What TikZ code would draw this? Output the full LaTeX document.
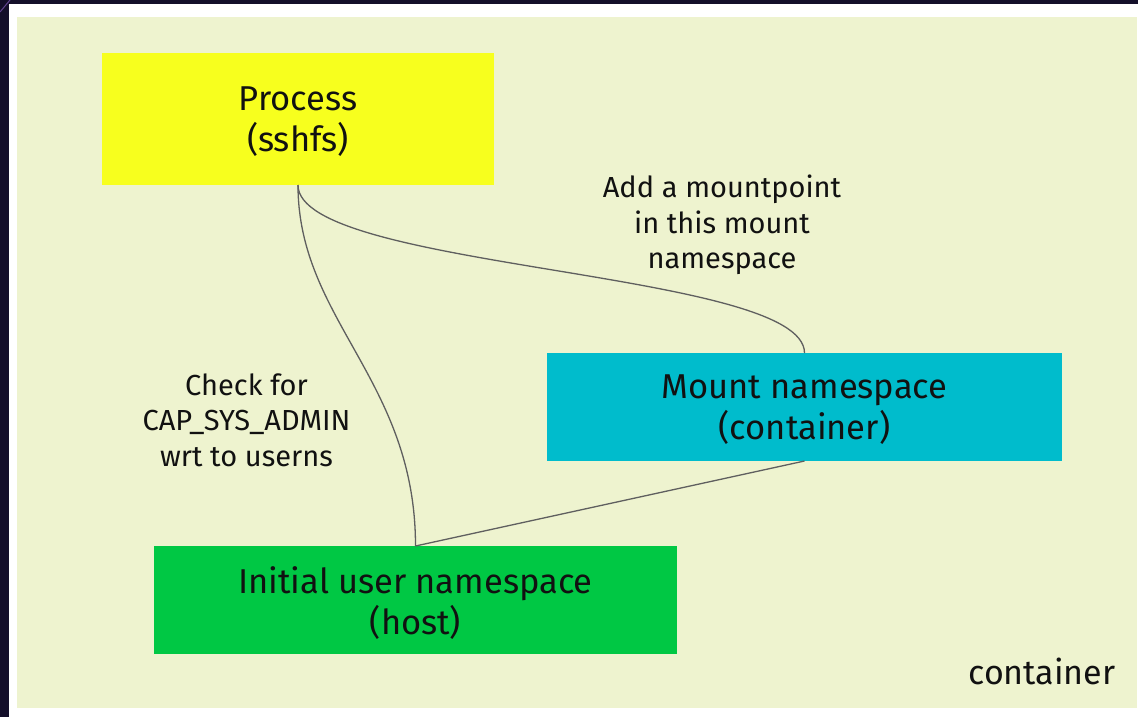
\documentclass[tikz,border=0pt]{standalone}
\usepackage{fontspec}
\setmainfont{Fira Sans}
\definecolor{darkbg}{HTML}{140F2A}
\definecolor{ctbg}{HTML}{EEF3CF}
\definecolor{procyel}{HTML}{F7FF1E}
\definecolor{mntcyan}{HTML}{00BCCC}
\definecolor{usrgreen}{HTML}{00C844}
\definecolor{linegray}{HTML}{5F5F5F}
\definecolor{txt}{HTML}{111111}
\tikzset{
  box/.style={rectangle, inner sep=0pt, outer sep=0pt},
  boxtext/.style={inner sep=0pt, align=center, text=txt, font=\fontsize{34.5}{41}\selectfont},
  note/.style={inner sep=0pt, align=center, text=txt, font=\fontsize{29}{35.5}\selectfont},
  conn/.style={draw=linegray, line width=1.3pt}
}
\begin{document}
\begin{tikzpicture}[x=1pt,y=-1pt]
\useasboundingbox (0,0) rectangle (1138,717);
\fill[darkbg] (0,0) rectangle (1138,717);
\draw[color=violet!60!blue!60!white, line width=1pt, opacity=0.6] (0,12) -- (10,0);
\fill[white] (9,4) rectangle (1138,717);
\fill[ctbg] (17,17) rectangle (1137,708);
\node[box, fill=procyel, minimum width=392pt, minimum height=132pt] (proc) at (298,119) {};
\node[box, fill=mntcyan, minimum width=515pt, minimum height=108pt] (mount) at (804.5,407) {};
\node[box, fill=usrgreen, minimum width=523pt, minimum height=108pt] (init) at (415.5,600) {};
\node[boxtext] (proctxt) at ([yshift=-3pt]proc.center) {Process\\(sshfs)};
\node[boxtext] (mounttxt) at ([yshift=-3pt]mount.center) {Mount namespace\\(container)};
\node[boxtext] (inittxt) at ([yshift=-3pt]init.center) {Initial user namespace\\(host)};
\node[note] (addlbl) at (722,225) {Add a mountpoint\\in this mount\\namespace};
\node[note] (chklbl) at (246.5,420) {Check for\\CAP\_SYS\_ADMIN\\wrt to userns};
\node[note, font=\fontsize{34}{41}\selectfont] (ctlbl) at (1042,671) {container};
\draw[conn] (proc.south) .. controls +(0,135) and +(0,-166) .. (init.north);
\draw[conn] (proc.south) .. controls +(0,85) and +(0,-83) .. (mount.north);
\draw[conn] (init.north) -- (mount.south);
\end{tikzpicture}
\end{document}
